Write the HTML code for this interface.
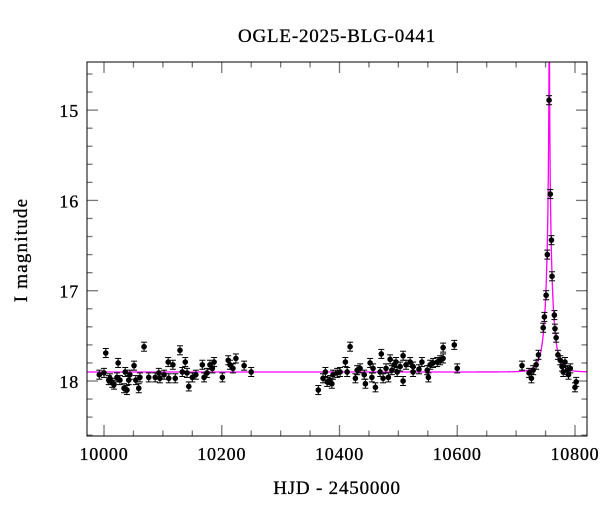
<!DOCTYPE html>
<html><head><meta charset="utf-8">
<style>
html,body{margin:0;padding:0;background:#fff;}
svg{display:block;font-family:"Liberation Serif",serif;}
</style></head>
<body>
<svg id="chart" width="600" height="512" viewBox="0 0 600 512">
<text x="337" y="42" font-size="19" letter-spacing="0.8" text-anchor="middle" stroke="#000" stroke-width="0.3">OGLE-2025-BLG-0441</text>
<text x="337" y="494" font-size="19" letter-spacing="0.8" text-anchor="middle" stroke="#000" stroke-width="0.3">HJD - 2450000</text>
<text x="27" y="250" font-size="19" letter-spacing="1.2" text-anchor="middle" stroke="#000" stroke-width="0.3" transform="rotate(-90 27 250)">I magnitude</text>
<g id="ticks"></g>
<g id="model"></g>
<g id="points"></g>
<rect x="87" y="62" width="500" height="374" fill="none" stroke="#000" stroke-width="1"/>
</svg>
<script>
const times=[9992,10003,10000,10010,10008,10014,10017,10024,10022,10027,10034,10036,10039,10042,10044,10051,10054,10059,10061,10068,10076,10087,10093,10095,10102,10109,10110,10117,10121,10129,10133,10138,10144,10141,10150,10156,10167,10170,10175,10180,10187,10184,10201,10211,10214,10219,10224,10238,10250,
10364,10372,10376,10379,10384,10387,10389,10396,10401,10410,10413,10418,10427,10430,10435,10442,10444,10452,10455,10457,10461,10469,10471,10474,10479,10483,10486,10489,10493,10496,10498,10503,10508,10508,10513,10520,10525,10525,10535,10540,10549,10551,10554,10559,10566,10571,10576,10576,10595,10600,
10710,10722,10726,10729,10734,10738,10746,10748,10751,10753,10756,10758,10760,10761,10765,10766,10768,10771,10775,10778,10780,10783,10787,10789,10792,10802,10800];
const mags=[17.93,17.69,17.91,17.97,17.99,18.02,18.04,17.80,17.96,17.99,18.08,17.90,18.10,17.99,17.93,17.83,17.99,18.08,17.96,17.62,17.96,17.96,17.91,17.97,17.93,17.79,17.97,17.82,17.97,17.66,17.90,17.79,18.06,17.91,17.96,17.93,17.82,17.96,17.91,17.82,17.79,17.86,17.96,17.77,17.82,17.86,17.75,17.83,17.90,
18.10,17.97,17.90,18.01,17.99,18.03,17.93,17.91,17.90,17.79,17.90,17.62,17.97,17.88,17.86,17.93,18.03,17.80,17.96,17.86,18.07,17.90,17.70,17.97,17.86,17.96,17.76,17.88,17.82,17.79,17.90,17.84,17.72,18.00,17.82,17.79,17.90,17.84,17.87,17.79,17.88,17.96,17.82,17.80,17.79,17.77,17.75,17.63,17.60,17.86,
17.83,17.91,17.97,17.88,17.82,17.71,17.41,17.29,17.05,16.60,14.89,15.93,16.44,16.84,17.27,17.42,17.52,17.71,17.77,17.84,17.90,17.79,17.88,17.93,17.86,18.01,18.07];
const errs=times.map((t,i)=>0.05);
const xTickValues=[10000,10200,10400,10600,10800];
const yTickValues=[15,16,17,18];
const modelT0=10756.3, modelTE=12, modelU0=0.02, modelBase=17.9;

const NS="http://www.w3.org/2000/svg";
const L=87,R=587,T=62,B=436;
const X0=9971.1,X1=10820.4,Y0=14.467,Y1=18.609;
const xs=v=>L+(v-X0)/(X1-X0)*(R-L);
const ys=v=>T+(v-Y0)/(Y1-Y0)*(B-T);
function mk(tag,attrs,parent){const e=document.createElementNS(NS,tag);for(const k in attrs)e.setAttribute(k,attrs[k]);parent.appendChild(e);return e;}
const tg=document.getElementById('ticks');
for(let v=9950;v<=10850;v+=50){const x=xs(v);if(x<L||x>R)continue;const len=(v%200===0)?11:5.5;
 const a=mk('line',{x1:x,y1:B,x2:x,y2:B-len,stroke:'#777','stroke-width':1.3},tg);
 
 const b=mk('line',{x1:x,y1:T,x2:x,y2:T+len,stroke:'#777','stroke-width':1.3},tg);
 }
for(let k=144;k<=186;k+=2){const mv=k*0.1;const y=ys(mv);if(y<T||y>B)continue;
 const len=(k%10===0)?11:5.5;
 const a=mk('line',{x1:L,y1:y,x2:L+len,y2:y,stroke:'#777','stroke-width':1.3},tg);
 
 const b=mk('line',{x1:R,y1:y,x2:R-len,y2:y,stroke:'#777','stroke-width':1.3},tg);
 }
xTickValues.forEach(v=>{const t=mk('text',{x:xs(v),y:B+24,'font-size':18,'letter-spacing':0.8,'text-anchor':'middle',stroke:'#000','stroke-width':0.3},tg);t.textContent=v;
 });
yTickValues.forEach(v=>{const t=mk('text',{x:L-8,y:ys(v)+7,'font-size':18,'letter-spacing':0.8,'text-anchor':'end',stroke:'#000','stroke-width':0.3},tg);t.textContent=v;
 });
const mg=document.getElementById('model');
const clip=mk('clipPath',{id:'pc'},mg);mk('rect',{x:L,y:T,width:R-L,height:B-T},clip);
let d='';
for(let t=X0;t<=X1;t+=(Math.abs(t-modelT0)<30?0.1:2)){const u=Math.sqrt(modelU0*modelU0+((t-modelT0)/modelTE)**2);
 const A=(u*u+2)/(u*Math.sqrt(u*u+4));const m=modelBase-2.5*Math.log10(A);d+=(d?'L':'M')+xs(t).toFixed(2)+','+ys(m).toFixed(2);}
const p=mk('path',{d:d,fill:'none',stroke:'#ff00ff','stroke-width':1.3,'clip-path':'url(#pc)'},mg);

const pg=document.getElementById('points');
times.forEach((t,i)=>{const g=mk('g',{},pg);
 
 const x=xs(t),y=ys(mags[i]),y1=ys(mags[i]-errs[i]),y2=ys(mags[i]+errs[i]);
 mk('line',{x1:x,y1:y1,x2:x,y2:y2,stroke:'#000','stroke-width':1},g);
 mk('line',{x1:x-3,y1:y1,x2:x+3,y2:y1,stroke:'#000','stroke-width':1},g);
 mk('line',{x1:x-3,y1:y2,x2:x+3,y2:y2,stroke:'#000','stroke-width':1},g);
 mk('circle',{cx:x,cy:y,r:2.8,fill:'#000'},g);});
</script>
</body></html>
